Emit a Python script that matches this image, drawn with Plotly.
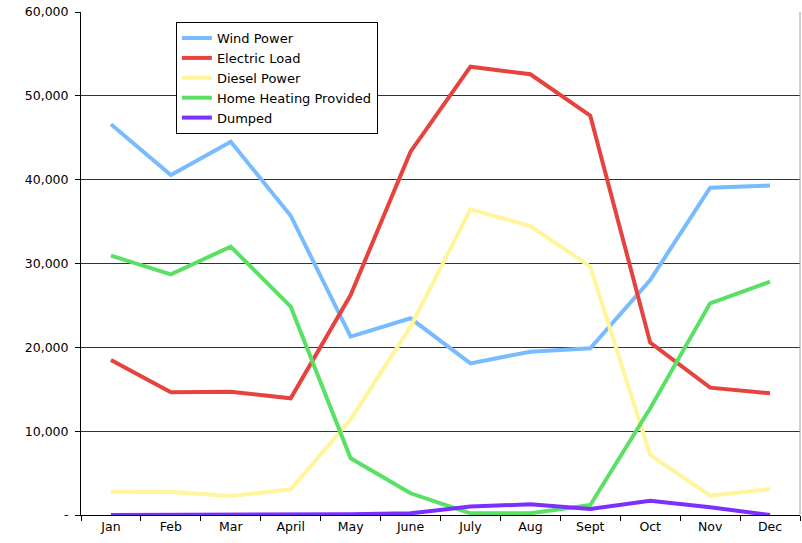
import plotly.graph_objects as go

months = ["Jan", "Feb", "Mar", "April", "May", "June", "July", "Aug", "Sept", "Oct", "Nov", "Dec"]
wind_power = [46600, 40560, 44530, 35700, 21270, 23460, 18090, 19480, 19880, 28030, 39050, 39290]
electric_load = [18490, 14640, 14710, 13920, 26240, 43340, 53480, 52570, 47630, 20560, 15190, 14520]
diesel_power = [2780, 2740, 2270, 3060, 11400, 22460, 36460, 34470, 29620, 7160, 2300, 3100]
home_heating = [30930, 28710, 32010, 24850, 6760, 2590, 200, 200, 1190, 12730, 25250, 27830]
dumped = [0, 0, 0, 0, 100, 200, 1000, 1270, 720, 1710, 920, 0]

y_tickvals = [0, 10000, 20000, 30000, 40000, 50000, 60000]
y_ticktext = ["-", "10,000", "20,000", "30,000", "40,000", "50,000", "60,000"]

series = [
    ("Wind Power", wind_power, "#78BCFF"),
    ("Electric Load", electric_load, "#E6433E"),
    ("Diesel Power", diesel_power, "#FFF59A"),
    ("Home Heating Provided", home_heating, "#5BE066"),
    ("Dumped", dumped, "#7B30FF"),
]

fig = go.Figure()
for name, vals, color in series:
    fig.add_trace(go.Scatter(x=months, y=vals, name=name, mode="lines",
                             line=dict(color=color, width=4)))

font = "DejaVu Sans, Verdana, sans-serif"
fig.update_layout(
    width=802, height=543,
    margin=dict(l=81, r=2, t=12, b=28),
    paper_bgcolor="white", plot_bgcolor="white",
    font=dict(family=font, size=12.5, color="#000000"),
    showlegend=True,
    legend=dict(x=0.132, y=0.98, xanchor="left", yanchor="top",
                bordercolor="#000000", borderwidth=1, bgcolor="white",
                font=dict(family=font, size=13, color="#000000"),
                itemwidth=30, tracegroupgap=0),
    xaxis=dict(type="category", range=[-0.5, 11.5], showgrid=False,
               showline=True, linecolor="#000000", linewidth=1,
               ticks="outside", tickson="boundaries", ticklen=5,
               tickcolor="#000000", tickfont=dict(size=12.5)),
    yaxis=dict(range=[0, 60000], tickvals=y_tickvals, ticktext=y_ticktext,
               showgrid=True, gridcolor="#333333", gridwidth=1,
               showline=True, linecolor="#000000", linewidth=1,
               ticks="outside", ticklen=5, tickcolor="#000000",
               zeroline=False, tickfont=dict(size=12.5), ticklabelstandoff=4),
    shapes=[dict(type="line", xref="paper", yref="paper", x0=1, x1=1, y0=0, y1=1,
                 line=dict(color="#A0A0A0", width=1))],
)

fig.write_html("out.html")
